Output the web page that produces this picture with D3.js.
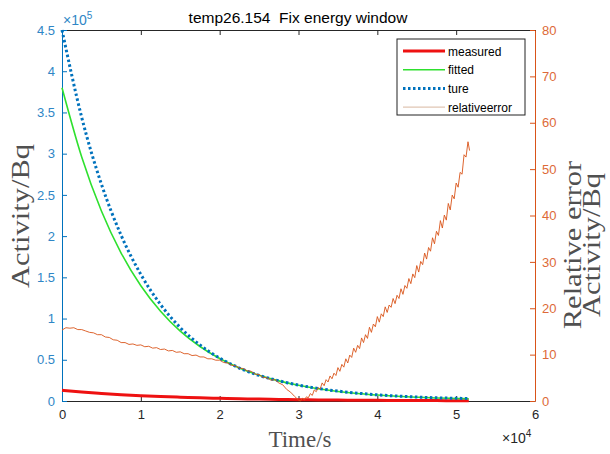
<!DOCTYPE html>
<html><head><meta charset="utf-8">
<script src="https://cdn.jsdelivr.net/npm/d3@7/dist/d3.min.js"></script>
<style>body{margin:0;background:#fff} svg{display:block}</style>
</head><body>
<svg id="chart" width="610" height="454"></svg>
<script>
// ---------- data ----------
const title = "temp26.154\u00a0\u00a0Fix energy window";
const xTickLabels = [0, 1, 2, 3, 4, 5, 6];              // x 10^4 s
const leftTickLabels = [0, 0.5, 1, 1.5, 2, 2.5, 3, 3.5, 4, 4.5]; // x 10^5 Bq
const rightTickLabels = [0, 10, 20, 30, 40, 50, 60, 70, 80];
const seriesNames = ["measured", "fitted", "ture", "relativeerror"];

const curveTime = [0, 2500, 5000, 7500, 10000, 12500, 15000, 17500, 20000, 22500, 25000,
  27500, 30000, 32500, 35000, 37500, 40000, 42500, 45000, 47500, 50000, 51600];
const measured = [13000, 10900, 9200, 7700, 6500, 5400, 4600, 3800, 3200, 2700, 2300,
  1900, 1600, 1350, 1100, 950, 800, 650, 550, 470, 400, 350];
const fitted = [380000, 296000, 230500, 179500, 139800, 108900, 84800, 66100, 51500, 40100, 31300,
  24400, 19000, 14800, 11600, 9100, 7200, 5700, 4600, 3700, 3100, 2800];
const ture = [450000, 344000, 263000, 201000, 153500, 117000, 89000, 68000, 52000, 40000, 31000,
  24500, 19300, 15200, 12000, 9500, 7500, 6000, 4800, 3900, 3300, 3000];

// relative error: every 500 s before the minimum, every 250 s after it
const relTime = d3.range(0, 30000, 500).concat(d3.range(30000, 51501, 250), [51700]);
const relErr = [
  // 0 .. 29500 (step 500)
  15.3, 15.8, 15.7, 15.8, 15.4, 15.4, 15.1, 14.8, 14.7, 14.3,
  14.3, 13.8, 13.7, 13.2, 13.1, 12.6, 12.6, 12.2, 12.3, 12.0,
  12.1, 11.7, 11.8, 11.4, 11.5, 11.1, 11.2, 10.8, 10.9, 10.5,
  10.6, 10.2, 10.2, 9.8, 9.9, 9.5, 9.5, 9.1, 9.1, 8.8,
  8.8, 8.3, 8.2, 7.7, 7.6, 7.1, 7.0, 6.5, 6.4, 5.8,
  5.7, 5.1, 5.0, 4.5, 4.6, 3.9, 3.5, 2.5, 1.9, 1.0,
  // 30000 .. 51500 (step 250)
  0.2, 0.0, 0.6, 0.2, 0.9, 0.7, 1.6, 1.2, 2.4, 2.0,
  2.9, 2.6, 3.9, 3.3, 4.6, 4.1, 5.4, 4.8, 6.0, 5.5,
  7.2, 6.4, 7.9, 7.3, 9.1, 8.2, 9.9, 9.4, 11.4, 10.5,
  12.0, 11.3, 13.6, 12.6, 14.3, 13.5, 15.9, 14.8, 16.6, 16.0,
  18.2, 17.0, 18.8, 18.2, 20.3, 19.1, 20.7, 20.2, 22.1, 21.0,
  22.8, 22.1, 24.2, 23.0, 24.9, 24.3, 26.4, 25.3, 27.4, 26.6,
  29.2, 27.8, 30.1, 29.4, 31.9, 30.6, 33.1, 32.3, 35.2, 33.9,
  36.6, 35.7, 38.9, 37.3, 40.1, 39.0, 42.6, 41.2, 44.4, 43.6,
  47.0, 46.1, 49.3, 48.9, 53.1, 52.6, 55.9,
  // 51700
  54.0];

// ---------- layout ----------
const svg = d3.select("#chart");
const L = 62, R = 535, T = 30, B = 401;
const sansFont = "'Liberation Sans', Arial, Helvetica, sans-serif";
const serifFont = "'Liberation Serif', 'Times New Roman', serif";
const blue = "#0072BD", orange = "#D95319";
const blueText = "#2f86c6", orangeText = "#dd6a38", darkText = "#262626", labelGray = "#505050";

const x = d3.scaleLinear().domain([0, 60000]).range([L, R]);
const yL = d3.scaleLinear().domain([0, 450000]).range([B, T]);
const yR = d3.scaleLinear().domain([0, 80]).range([B, T]);

svg.append("rect").attr("width", 610).attr("height", 454).attr("fill", "#fff");

function styleAxis(g, lineColor, textColor) {
  g.select(".domain").attr("stroke", lineColor).attr("stroke-width", 1);
  g.selectAll(".tick line").attr("stroke", lineColor);
  g.selectAll(".tick text").attr("fill", textColor)
    .attr("font-family", sansFont).attr("font-size", 13);
}

// bottom axis
const gB = svg.append("g").attr("transform", `translate(0,${B})`)
  .call(d3.axisBottom(x).tickValues(xTickLabels.map(d => d * 1e4))
    .tickFormat(d => d / 1e4).tickSizeInner(-5).tickSizeOuter(0).tickPadding(9));
styleAxis(gB, "#262626", darkText);
// top axis
const gT = svg.append("g").attr("transform", `translate(0,${T})`)
  .call(d3.axisTop(x).tickValues(xTickLabels.map(d => d * 1e4))
    .tickFormat("").tickSizeInner(-5).tickSizeOuter(0));
styleAxis(gT, "#262626", darkText);
// left axis
const gL = svg.append("g").attr("transform", `translate(${L},0)`)
  .call(d3.axisLeft(yL).tickValues(leftTickLabels.map(d => d * 1e5))
    .tickFormat(d => d / 1e5).tickSizeInner(-5).tickSizeOuter(0).tickPadding(7));
styleAxis(gL, blue, blueText);
// right axis
const gR = svg.append("g").attr("transform", `translate(${R},0)`)
  .call(d3.axisRight(yR).tickValues(rightTickLabels)
    .tickSizeInner(-5).tickSizeOuter(0).tickPadding(7));
styleAxis(gR, orange, orangeText);

// exponent labels
const e5 = svg.append("text").attr("x", L + 1).attr("y", 25)
  .attr("font-family", sansFont).attr("font-size", 14).attr("fill", blueText);
e5.append("tspan").text("×10");
e5.append("tspan").attr("font-size", 10).attr("dy", -6).text("5");
const e4 = svg.append("text").attr("x", 502).attr("y", 443)
  .attr("font-family", sansFont).attr("font-size", 14).attr("fill", darkText);
e4.append("tspan").text("×10");
e4.append("tspan").attr("font-size", 10).attr("dy", -6).text("4");

// title
svg.append("text").attr("x", 298).attr("y", 23).attr("text-anchor", "middle")
  .attr("font-family", sansFont).attr("font-size", 15.5).attr("fill", "#000").text(title);

// axis labels
svg.append("text").attr("x", 300).attr("y", 447).attr("text-anchor", "middle")
  .attr("font-family", serifFont).attr("font-size", 23).attr("fill", labelGray).text("Time/s");
svg.append("text").attr("transform", "translate(29,216) rotate(-90) scale(1.22,1)")
  .attr("text-anchor", "middle")
  .attr("font-family", serifFont).attr("font-size", 25).attr("fill", labelGray).text("Activity/Bq");
const rl = svg.append("text").attr("transform", "translate(581,245) rotate(-90) scale(1.22,1)")
  .attr("text-anchor", "middle")
  .attr("font-family", serifFont).attr("font-size", 25).attr("fill", labelGray);
rl.append("tspan").attr("x", 0).attr("dy", 0).text("Relative error");
rl.append("tspan").attr("x", 0).attr("dy", 19).text("Activity/Bq");

// ---------- data lines ----------
const lineL = d3.line().x((d, i) => x(curveTime[i])).y(d => yL(d)).curve(d3.curveMonotoneX);
svg.append("path").datum(measured).attr("d", lineL).attr("fill", "none")
  .attr("stroke", "#ee1111").attr("stroke-width", 3);
svg.append("path").datum(fitted).attr("d", lineL).attr("fill", "none")
  .attr("stroke", "#2ee02e").attr("stroke-width", 1.6);
svg.append("path").datum(ture).attr("d", lineL).attr("fill", "none")
  .attr("stroke", blue).attr("stroke-width", 3).attr("stroke-dasharray", "2.5,2.5");
const lineR = d3.line().x((d, i) => x(relTime[i])).y(d => yR(d));
svg.append("path").datum(relErr).attr("d", lineR).attr("fill", "none")
  .attr("stroke", orange).attr("stroke-width", 0.9).attr("stroke-linejoin", "round");

// ---------- legend ----------
const lg = svg.append("g").attr("transform", "translate(397,39)");
lg.append("rect").attr("width", 128).attr("height", 76).attr("fill", "#fff")
  .attr("stroke", "#222").attr("stroke-width", 1);
const legStyles = [
  {c: "#ee1111", w: 3, dash: null},
  {c: "#2ee02e", w: 1.6, dash: null},
  {c: blue, w: 3, dash: "2.5,2.5"},
  {c: "#d8b8a0", w: 1, dash: null}
];
seriesNames.forEach((name, i) => {
  const yy = 12 + i * 18.7;
  lg.append("line").attr("x1", 6).attr("x2", 48).attr("y1", yy).attr("y2", yy)
    .attr("stroke", legStyles[i].c).attr("stroke-width", legStyles[i].w)
    .attr("stroke-dasharray", legStyles[i].dash);
  lg.append("text").attr("x", 51).attr("y", yy + 4.5)
    .attr("font-family", sansFont).attr("font-size", 12).attr("fill", "#000").text(name);
});
</script>
</body></html>
